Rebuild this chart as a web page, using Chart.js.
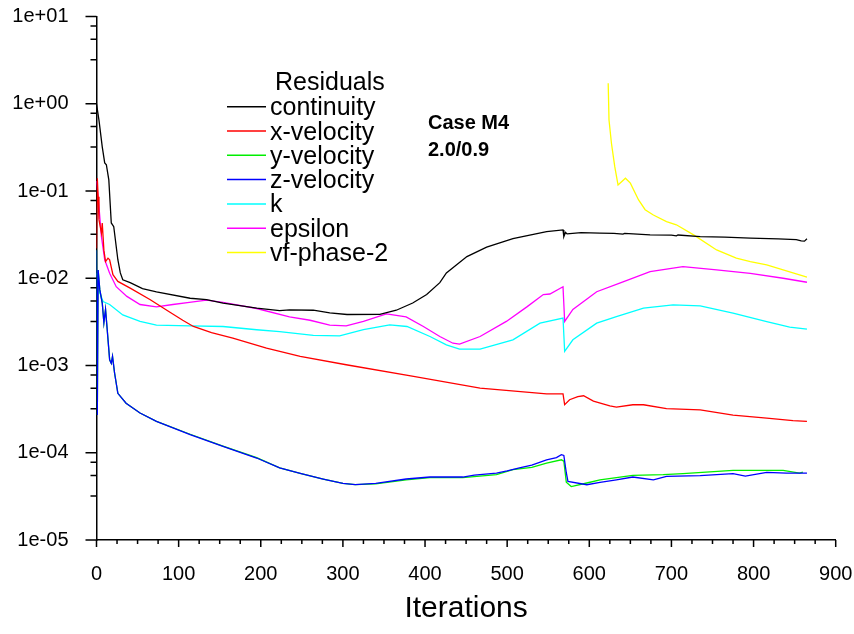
<!DOCTYPE html>
<html>
<head>
<meta charset="utf-8">
<script src="https://cdn.jsdelivr.net/npm/chart.js@4.4.0/dist/chart.umd.min.js"></script>
<style>
  html, body { margin: 0; padding: 0; background: #fff; }
</style>
</head>
<body>
<canvas id="myChart" width="854" height="634"></canvas>
<script>
// residual histories, [iteration, residual]
const continuity = [
  [0, 1.0], [3, 0.65], [7, 0.32], [10, 0.21], [12, 0.20], [15, 0.134], [18, 0.043], [21, 0.039],
  [26, 0.0163], [29, 0.0115], [32, 0.0096], [41, 0.0089], [56, 0.0076], [73, 0.0070], [114, 0.0059],
  [134, 0.0057], [154, 0.0052], [195, 0.00454], [223, 0.00426], [235, 0.00435], [264, 0.0043],
  [284, 0.0040], [305, 0.00384], [345, 0.00385], [365, 0.0043], [385, 0.0052], [402, 0.0065],
  [418, 0.0089], [426, 0.0115], [451, 0.0177], [475, 0.0227], [507, 0.0285], [548, 0.0343],
  [568, 0.0358], [569, 0.030], [571, 0.0335], [573, 0.0322], [590, 0.0333], [613, 0.0329],
  [630, 0.0326], [641, 0.0320], [643, 0.0326], [674, 0.0314], [700, 0.0312], [706, 0.0306],
  [708, 0.0313], [735, 0.0300], [765, 0.0296], [796, 0.0288], [830, 0.0282], [852, 0.0277],
  [858, 0.0268], [862, 0.0266], [865, 0.0283]
];
const xVelocity = [
  [0, 0.022], [1, 0.14], [2, 0.086], [3, 0.047], [6, 0.033], [7, 0.043], [9, 0.021], [11, 0.0155],
  [14, 0.017], [16, 0.0163], [20, 0.011], [26, 0.0092], [41, 0.0077], [65, 0.0057], [89, 0.0041],
  [105, 0.0033], [118, 0.0028], [140, 0.00238], [166, 0.00206], [207, 0.00158], [248, 0.00127],
  [304, 0.00102], [386, 0.00075], [467, 0.00055], [548, 0.000474], [568, 0.000474], [570, 0.000355],
  [576, 0.000405], [586, 0.00044], [593, 0.00045], [605, 0.00039], [625, 0.000345], [633, 0.000333],
  [653, 0.000355], [666, 0.000355], [694, 0.00032], [735, 0.00031], [775, 0.00027], [816, 0.00025],
  [848, 0.000233], [865, 0.000229]
];
const yVelocity = [
  [0, 0.021], [1, 0.00027], [2, 0.0124], [4, 0.0074], [7, 0.0052], [9, 0.0031], [11, 0.0044],
  [13, 0.0026], [16, 0.00116], [18, 0.00106], [19.5, 0.00127], [22, 0.00082], [26, 0.00048],
  [36, 0.00037], [53, 0.000285], [73, 0.000229], [114, 0.000163], [154, 0.000119], [195, 0.000088],
  [223, 0.000067], [248, 0.000058], [276, 0.00005], [300, 0.0000445], [315, 0.0000432], [340, 0.000044],
  [377, 0.000049], [406, 0.000052], [446, 0.000052], [487, 0.000056], [507, 0.000064], [530, 0.000068],
  [548, 0.000076], [566, 0.000083], [569, 0.00008], [572, 0.000046], [578, 0.000041], [597, 0.000045],
  [613, 0.000049], [653, 0.000055], [690, 0.000056], [714, 0.0000575], [775, 0.0000627],
  [836, 0.0000627], [856, 0.0000585], [860, 0.00006]
];
const zVelocity = [
  [0, 0.021], [1, 0.00027], [2, 0.0124], [4, 0.0074], [7, 0.0052], [9, 0.0031], [11, 0.0044],
  [13, 0.0026], [16, 0.00116], [18, 0.00106], [19.5, 0.00127], [22, 0.00082], [26, 0.00048],
  [36, 0.00037], [53, 0.000285], [73, 0.000229], [114, 0.000161], [154, 0.000118], [195, 0.000087],
  [223, 0.000067], [248, 0.000058], [276, 0.00005], [300, 0.0000445], [315, 0.0000432], [340, 0.0000445],
  [377, 0.00005], [406, 0.0000527], [420, 0.000053], [446, 0.0000527], [460, 0.0000555], [487, 0.0000585],
  [500, 0.000062], [515, 0.000067], [530, 0.000072], [548, 0.000083], [560, 0.000088], [566, 0.000095],
  [569, 0.000093], [572, 0.000059], [574, 0.000047], [597, 0.000043], [613, 0.0000457], [633, 0.000049],
  [653, 0.0000527], [678, 0.000049], [694, 0.0000536], [735, 0.0000546], [775, 0.0000575],
  [790, 0.000054], [816, 0.0000595], [840, 0.0000585], [865, 0.0000585]
];
const kRes = [
  [0, 0.0114], [4, 0.0068], [8, 0.0054], [16, 0.005], [32, 0.0038], [53, 0.0032], [73, 0.0029],
  [114, 0.00285], [154, 0.0028], [195, 0.00257], [223, 0.00245], [264, 0.00221], [296, 0.00219],
  [325, 0.00257], [357, 0.00292], [378, 0.0028], [406, 0.00215], [426, 0.00172], [442, 0.00154],
  [467, 0.00154], [507, 0.00197], [540, 0.00306], [568, 0.00349], [570, 0.00145], [580, 0.00197],
  [609, 0.00306], [633, 0.00364], [666, 0.00454], [702, 0.00496], [735, 0.00483], [775, 0.00398],
  [816, 0.00319], [844, 0.00275], [865, 0.00261]
];
const epsilon = [
  [0, 0.13], [3, 0.066], [6, 0.03], [10, 0.0163], [16, 0.0114], [24, 0.008], [37, 0.0062], [53, 0.005],
  [73, 0.0047], [93, 0.005], [113, 0.0053], [134, 0.0056], [154, 0.0053], [195, 0.0045], [235, 0.0036],
  [260, 0.0033], [284, 0.0029], [304, 0.00285], [325, 0.0032], [353, 0.0039], [377, 0.0036],
  [398, 0.0028], [418, 0.00215], [434, 0.0018], [442, 0.00176], [467, 0.00215], [499, 0.0032],
  [524, 0.0047], [544, 0.0065], [552, 0.0066], [568, 0.008], [570, 0.0032], [580, 0.0044], [609, 0.007],
  [637, 0.0088], [674, 0.0119], [714, 0.0136], [755, 0.0125], [796, 0.0114], [836, 0.01], [865, 0.009]
];
const vfPhase2 = [
  [623, 1.72], [624, 0.65], [627, 0.35], [631, 0.19], [635, 0.117], [644, 0.14], [650, 0.123],
  [660, 0.079], [668, 0.061], [678, 0.053], [694, 0.0446], [706, 0.041], [727, 0.0314], [755, 0.0211],
  [779, 0.017], [796, 0.0155], [816, 0.0142], [865, 0.0103]
];

const seriesNames = ["continuity", "x-velocity", "y-velocity", "z-velocity", "k", "epsilon", "vf-phase-2"];
const seriesData = [continuity, xVelocity, yVelocity, zVelocity, kRes, epsilon, vfPhase2];
const seriesColors = ["#000000", "#ff0000", "#00ee00", "#0000ff", "#00ffff", "#ff00ff", "#ffff00"];

const yDecades = [1e-5, 1e-4, 1e-3, 1e-2, 1e-1, 1e0, 1e1];
const yMinorFactors = [3.2, 5.5, 7.8];
const xTickStep = 25;
const noteLines = ["Case M4", "2.0/0.9"];

function expLabel(v) {
  const e = Math.round(Math.log10(v));
  return "1e" + (e < 0 ? "-" : "+") + String(Math.abs(e)).padStart(2, "0");
}

function isDecade(v) {
  const l = Math.log10(v);
  return Math.abs(l - Math.round(l)) < 1e-6;
}

// own tick marks so minor ticks can be shorter
const tickMarks = {
  id: "tickMarks",
  afterDraw(chart) {
    const ctx = chart.ctx;
    const xs = chart.scales.x;
    const ys = chart.scales.y;
    ctx.save();
    ctx.strokeStyle = "#000";
    ctx.lineWidth = 1.5;
    ctx.beginPath();
    ys.ticks.forEach(t => {
      const p = ys.getPixelForValue(t.value);
      const len = t.label ? 11 : 6;
      ctx.moveTo(ys.right - len, p);
      ctx.lineTo(ys.right, p);
    });
    xs.ticks.forEach(t => {
      const p = xs.getPixelForValue(t.value);
      const len = t.label ? 7 : 4;
      ctx.moveTo(p, xs.top);
      ctx.lineTo(p, xs.top + len);
    });
    ctx.stroke();
    ctx.restore();
  }
};

const legendBox = {
  id: "legendBox",
  afterDatasetsDraw(chart) {
    const ctx = chart.ctx;
    ctx.save();
    ctx.fillStyle = "#000";
    ctx.font = "25px 'Liberation Sans', Arial, sans-serif";
    ctx.textBaseline = "alphabetic";
    ctx.fillText("Residuals", 275, 90);
    chart.data.datasets.forEach((ds, i) => {
      const y = 106.7 + i * 24.3;
      ctx.strokeStyle = ds.borderColor;
      ctx.lineWidth = 1.5;
      ctx.beginPath();
      ctx.moveTo(227, y);
      ctx.lineTo(266, y);
      ctx.stroke();
      ctx.fillText(ds.label, 270, y + 8.5);
    });
    ctx.font = "bold 20px 'Liberation Sans', Arial, sans-serif";
    ctx.fillText(noteLines[0], 428, 128.5);
    ctx.fillText(noteLines[1], 428, 156);
    ctx.restore();
  }
};

const ctx = document.getElementById("myChart");

new Chart(ctx, {
  type: "line",
  data: {
    datasets: seriesNames.map((name, i) => ({
      label: name,
      data: seriesData[i].map(p => ({ x: p[0], y: p[1] })),
      borderColor: seriesColors[i],
      borderWidth: 1.3,
      pointRadius: 0,
      tension: 0,
      fill: false,
      order: name === "z-velocity" ? -1 : i
    }))
  },
  options: {
    responsive: false,
    animation: false,
    devicePixelRatio: 1,
    layout: { padding: { top: 16.5, right: 18.3, left: 0, bottom: 0 } },
    plugins: { legend: { display: false }, tooltip: { enabled: false } },
    scales: {
      x: {
        type: "linear",
        min: 0,
        max: 900,
        afterFit: s => {
          s.height = 94;
          s.paddingLeft = 0;
          s.paddingRight = 0;
        },
        afterBuildTicks: s => {
          const t = [];
          for (let v = 0; v <= 900; v += xTickStep) t.push({ value: v });
          s.ticks = t;
        },
        ticks: {
          autoSkip: false,
          maxRotation: 0,
          padding: 22,
          color: "#000",
          font: { family: "'Liberation Sans', Arial, sans-serif", size: 20 },
          callback: v => (v % 100 === 0 ? String(v) : "")
        },
        grid: { display: true, drawOnChartArea: false, drawTicks: false },
        border: { display: true, color: "#000", width: 1.5 },
        title: {
          display: true,
          text: "Iterations",
          color: "#000",
          font: { family: "'Liberation Sans', Arial, sans-serif", size: 30 },
          padding: { top: 0, bottom: 7.5 }
        }
      },
      y: {
        type: "logarithmic",
        min: 1e-5,
        max: 10,
        afterFit: s => {
          s.width = 96.5;
          s.paddingTop = 0;
          s.paddingBottom = 0;
        },
        afterBuildTicks: s => {
          const t = [];
          yDecades.forEach((d, i) => {
            t.push({ value: d });
            if (i < yDecades.length - 1) yMinorFactors.forEach(f => t.push({ value: d * f }));
          });
          t.sort((a, b) => a.value - b.value);
          s.ticks = t;
        },
        ticks: {
          autoSkip: false,
          padding: 28,
          color: "#000",
          font: { family: "'Liberation Sans', Arial, sans-serif", size: 20 },
          callback: v => (isDecade(v) ? expLabel(v) : "")
        },
        grid: { display: true, drawOnChartArea: false, drawTicks: false },
        border: { display: true, color: "#000", width: 1.5 }
      }
    }
  },
  plugins: [tickMarks, legendBox]
});
</script>
</body>
</html>
